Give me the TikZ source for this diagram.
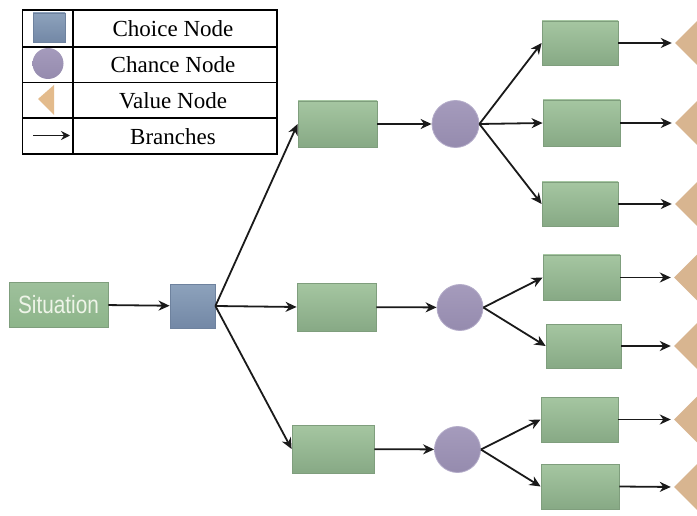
\documentclass[tikz,border=0pt]{standalone}
\usepackage{fontspec}
\newfontfamily\sitfont{Liberation Sans}
\newfontfamily\legfont{Liberation Serif}
\usetikzlibrary{shapes.geometric,arrows.meta}
\definecolor{gtop}{HTML}{A5C6A1}
\definecolor{gbot}{HTML}{87A985}
\definecolor{gborder}{HTML}{7F9E7D}
\definecolor{sitfill}{HTML}{8DB58A}
\definecolor{ctop}{HTML}{A59BBC}
\definecolor{cbot}{HTML}{958BAE}
\definecolor{cborder}{HTML}{B4ACC9}
\definecolor{stop}{HTML}{8DA2BC}
\definecolor{sbot}{HTML}{7388A6}
\definecolor{sborder}{HTML}{6E829E}
\definecolor{tri}{HTML}{D8B590}
\definecolor{ltri}{HTML}{E3BB8C}
\definecolor{sittext}{HTML}{EEF4E8}
\definecolor{arrcol}{HTML}{1A1A1A}
\begin{document}
\begin{tikzpicture}[x=1pt,y=-1pt,
  greenbox/.style={rectangle,draw=gborder,line width=0.8pt,top color=gtop,bottom color=gbot,inner sep=0pt},
  chancenode/.style={circle,draw=cborder,line width=0.8pt,top color=ctop,bottom color=cbot,inner sep=0pt,minimum size=46pt},
  choicenode/.style={rectangle,draw=sborder,line width=0.8pt,top color=stop,bottom color=sbot,inner sep=0pt},
  valuenode/.style={diamond,fill=tri,inner sep=0pt,minimum width=60pt,minimum height=60pt},
  arr/.style={draw=arrcol,line width=1.8pt,-{Stealth[length=11pt,width=10pt,inset=3.5pt]}},
  legtext/.style={font=\legfont\fontsize{23}{26}\selectfont,text=black,inner sep=0pt}
]
\path[use as bounding box,fill=white] (0,0) rectangle (697,516);

% legend
\draw[line width=1.1pt,black] (22.5,10) rectangle (277,154);
\draw[line width=1.1pt,black] (22.5,47) -- (277,47) (22.5,82.5) -- (277,82.5) (22.5,118) -- (277,118) (73,10) -- (73,154);
\node[choicenode,minimum width=32pt,minimum height=29pt] (lsq) at (49,27.5) {};
\node[chancenode,minimum size=31pt,draw=none] (lci) at (48,63.5) {};
\fill[ltri] (38,99) -- (54,85) -- (54,115) -- cycle;
\coordinate (la) at (33,135.5);
\coordinate (lb) at (70,135.5);
\draw[arrcol,line width=1.5pt,-{Stealth[length=9pt,width=9pt,inset=3pt]}] (la) -- (lb);
\node[legtext] (t1) at (173,29) {Choice Node};
\node[legtext] (t2) at (173,65) {Chance Node};
\node[legtext] (t3) at (173,100.5) {Value Node};
\node[legtext] (t4) at (173,136.5) {Branches};

% main tree
\node[rectangle,draw=gborder,line width=0.8pt,top color=sitfill!85!white,bottom color=sitfill,inner sep=0pt,minimum width=99pt,minimum height=45pt] (sit) at (58.5,304.5)
  {\sitfont\fontsize{25}{27}\selectfont\color{sittext}\scalebox{0.83}[1]{Situation}};
\node[choicenode,minimum width=45pt,minimum height=44pt] (sq) at (192.5,306) {};

\node[greenbox,minimum width=79pt,minimum height=46pt] (b1) at (337.5,124) {};
\node[greenbox,minimum width=79pt,minimum height=48pt] (b2) at (336.5,307) {};
\node[greenbox,minimum width=82pt,minimum height=48pt] (b3) at (333,449) {};

\node[chancenode,minimum size=47pt] (c1) at (455.5,124) {};
\node[chancenode] (c2) at (460,307.5) {};
\node[chancenode] (c3) at (457.5,449.5) {};

\node[greenbox,minimum width=76pt,minimum height=44pt] (r1) at (580,43) {};
\node[greenbox,minimum width=77pt,minimum height=46pt] (r2) at (581.5,123) {};
\node[greenbox,minimum width=76pt,minimum height=44pt] (r3) at (580,204) {};
\node[greenbox,minimum width=77pt,minimum height=45pt] (r4) at (581.5,277.5) {};
\node[greenbox,minimum width=75pt,minimum height=44pt] (r5) at (583.5,346) {};
\node[greenbox,minimum width=77pt,minimum height=45pt] (r6) at (579.5,419.5) {};
\node[greenbox,minimum width=78pt,minimum height=45pt] (r7) at (580,486.5) {};

\begin{scope}
\clip (0,0) rectangle (697,516);
\node[valuenode] (v1) at (705,43) {};
\node[valuenode] (v2) at (705,123) {};
\node[valuenode] (v3) at (705,204) {};
\node[valuenode] (v4) at (704,277.5) {};
\node[valuenode] (v5) at (704,346) {};
\node[valuenode] (v6) at (704,419.5) {};
\node[valuenode] (v7) at (704,487) {};
\end{scope}

\draw[arr] (sit) -- (sq);
\draw[arr] (sq.east) -- (b1.west);
\draw[arr] (sq.east) -- (b2.west);
\draw[arr] (sq.east) -- (b3.west);
\draw[arr] (b1) -- (c1);
\draw[arr] (b2) -- (c2);
\draw[arr] (b3) -- (c3);
\draw[arr] (c1.east) -- (r1.west);
\draw[arr] (c1.east) -- (r2.west);
\draw[arr] (c1.east) -- (r3.west);
\draw[arr] (c2.east) -- (r4.west);
\draw[arr] (c2.east) -- (r5.west);
\draw[arr] (c3.east) -- (r6.west);
\draw[arr] (c3.east) -- (r7.west);
\foreach \i in {1,...,7} {\draw[arr,shorten >=3pt] (r\i.east) -- (v\i.west);}
\end{tikzpicture}
\end{document}
